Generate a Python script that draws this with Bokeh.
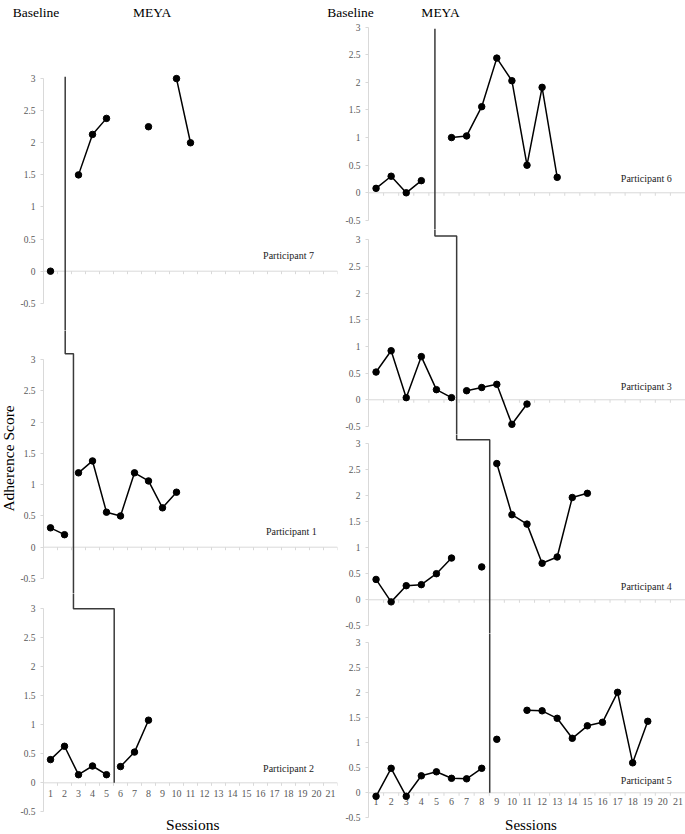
import math
from bokeh.plotting import figure
from bokeh.layouts import row, column
from bokeh.models import Range1d, FixedTicker, Label, NumeralTickFormatter
from bokeh.embed import file_html
from bokeh.resources import INLINE
from bokeh.core.properties import value

nan = float("nan")

# ---------------- data ----------------
sessions = list(range(1, 22))
session_labels = [str(s) for s in sessions]
y_ticks = [-0.5, 0, 0.5, 1, 1.5, 2, 2.5, 3]
phase_labels = ["Baseline", "MEYA"]

p7_base_x = [1]
p7_base_y = [0.0]
p7_meya_x = [3, 4, 5, 6, 7, 8, 9, 10, 11]
p7_meya_y = [1.5, 2.13, 2.38, nan, nan, 2.25, nan, 3.0, 2.0]

p1_base_x = [1, 2]
p1_base_y = [0.31, 0.20]
p1_meya_x = [3, 4, 5, 6, 7, 8, 9, 10]
p1_meya_y = [1.19, 1.38, 0.56, 0.50, 1.19, 1.06, 0.63, 0.88]

p2_base_x = [1, 2, 3, 4, 5]
p2_base_y = [0.40, 0.63, 0.14, 0.29, 0.14]
p2_meya_x = [6, 7, 8]
p2_meya_y = [0.28, 0.53, 1.08]

p6_base_x = [1, 2, 3, 4]
p6_base_y = [0.08, 0.30, 0.0, 0.22]
p6_meya_x = [6, 7, 8, 9, 10, 11, 12, 13]
p6_meya_y = [1.0, 1.03, 1.56, 2.44, 2.03, 0.50, 1.91, 0.28]

p3_base_x = [1, 2, 3, 4, 5, 6]
p3_base_y = [0.52, 0.92, 0.04, 0.81, 0.19, 0.04]
p3_meya_x = [7, 8, 9, 10, 11]
p3_meya_y = [0.17, 0.23, 0.29, -0.46, -0.08]

p4_base_x = [1, 2, 3, 4, 5, 6, 7, 8]
p4_base_y = [0.39, -0.04, 0.27, 0.29, 0.50, 0.80, nan, 0.63]
p4_meya_x = [9, 10, 11, 12, 13, 14, 15]
p4_meya_y = [2.61, 1.63, 1.45, 0.70, 0.82, 1.96, 2.04]

p5_base_x = [1, 2, 3, 4, 5, 6, 7, 8]
p5_base_y = [-0.07, 0.49, -0.07, 0.34, 0.42, 0.29, 0.28, 0.49]
p5_meya_x = [9, 10, 11, 12, 13, 14, 15, 16, 17, 18, 19]
p5_meya_y = [1.07, nan, 1.65, 1.64, 1.49, 1.09, 1.34, 1.41, 2.01, 0.60, 1.43]

# phase-change line positions (session units) and step levels
left_phase_x = [2.05, 2.64, 5.55]
left_phase_level = [3.03, 3.094, 3.0]
right_phase_x = [4.90, 6.34, 8.53]
right_phase_level = [2.97, 3.07, 3.065]

# ---------------- style ----------------
SERIF = "Liberation Serif"
AXIS_GRAY = "#d9d9d9"
LABEL_GRAY = "#595959"
STEP_COLOR = "#3a3a3a"
EXT = 0.2  # let step lines run past the frame edge so panels join seamlessly


def bare_figure(w, h, xr, yr):
    f = figure(width=w, height=h, x_range=Range1d(*xr), y_range=Range1d(*yr),
               x_axis_type=None, y_axis_type=None, output_backend="svg",
               toolbar_location=None, min_border_left=0, min_border_right=0,
               min_border_top=0, min_border_bottom=0)
    f.outline_line_color = None
    f.grid.visible = False
    return f


def make_panel(name, bx, by, mx, my, fw, fh, bl, br, yr, lab_x, step_paths,
               xlabels=False, xlab_off=6):
    p = figure(frame_width=fw, frame_height=fh, x_range=Range1d(0.5, 21.5),
               y_range=Range1d(*yr), x_axis_type=None,
               output_backend="svg", toolbar_location=None,
               min_border_left=bl, min_border_right=br,
               min_border_top=0, min_border_bottom=0)
    p.outline_line_color = None
    p.grid.visible = False

    ax = p.yaxis[0]
    ax.ticker = FixedTicker(ticks=y_ticks)
    ax.bounds = (-0.5, 3)
    ax.formatter = NumeralTickFormatter(format="0.[0]")
    ax.axis_line_color = AXIS_GRAY
    ax.major_tick_line_color = AXIS_GRAY
    ax.minor_tick_line_color = None
    ax.major_tick_out = 3
    ax.major_tick_in = 0
    ax.major_label_standoff = 5
    ax.major_label_text_font = SERIF
    ax.major_label_text_font_size = "9.5px"
    ax.major_label_text_color = LABEL_GRAY

    ppu = fh / (yr[1] - yr[0])
    # x axis line at zero with category ticks
    p.segment(x0=[0.5], y0=[0], x1=[21.5], y1=[0], line_color=AXIS_GRAY, line_width=1)
    tx = [s - 0.5 for s in sessions] + [21.5]
    p.segment(x0=tx, y0=[0] * len(tx), x1=tx, y1=[-3.0 / ppu] * len(tx),
              line_color=AXIS_GRAY, line_width=1)

    if xlabels:
        p.text(x=sessions, y=[0] * len(sessions), text=session_labels,
               text_font=value(SERIF), text_font_size="10px", text_color=LABEL_GRAY,
               text_align="center", text_baseline="top", y_offset=xlab_off)

    # phase change step line
    for xs, ys in step_paths:
        p.line(xs, ys, line_color=STEP_COLOR, line_width=1.5)

    # data
    p.line(bx, by, line_color="black", line_width=1.5)
    p.line(mx, my, line_color="black", line_width=1.5)
    p.scatter(bx, by, size=6.5, color="black")
    p.scatter(mx, my, size=6.5, color="black")

    p.add_layout(Label(x=lab_x, y=0.25, text=name, text_font=SERIF,
                       text_font_size="10px", text_color="#222222",
                       text_align="center", text_baseline="middle"))
    return p


TOP_H = 21
LW, LBL, LBR = 294, 27, 3
RW, RBL, RBR = 317, 28, 0
SIDE_W = 16

# left column
yr7 = (-0.924, 3.889)
yr1 = (-0.741, 3.467)
yr2 = (-0.891, 3.264)
la, lb, lc = left_phase_x
p7 = make_panel("Participant 7", p7_base_x, p7_base_y, p7_meya_x, p7_meya_y,
                LW, 309, LBL, LBR, yr7, 18.0,
                [([la, la], [left_phase_level[0], yr7[0] - EXT])])
p1 = make_panel("Participant 1", p1_base_x, p1_base_y, p1_meya_x, p1_meya_y,
                LW, 263, LBL, LBR, yr1, 18.2,
                [([la, la, lb, lb], [yr1[1] + EXT, left_phase_level[1],
                                     left_phase_level[1], yr1[0] - EXT])])
p2 = make_panel("Participant 2", p2_base_x, p2_base_y, p2_meya_x, p2_meya_y,
                LW, 241, LBL, LBR, yr2, 18.0,
                [([lb, lb, lc, lc], [yr2[1] + EXT, left_phase_level[2],
                                     left_phase_level[2], 0])],
                xlabels=True, xlab_off=7)

# right column
yr6 = (-0.665, 3.103)
yr3 = (-0.651, 3.193)
yr4 = (-0.646, 3.167)
yr5 = (-0.834, 3.186)
ra, rb, rc = right_phase_x
p6 = make_panel("Participant 6", p6_base_x, p6_base_y, p6_meya_x, p6_meya_y,
                RW, 208, RBL, RBR, yr6, 18.9,
                [([ra, ra], [right_phase_level[0], yr6[0] - EXT])])
p3 = make_panel("Participant 3", p3_base_x, p3_base_y, p3_meya_x, p3_meya_y,
                RW, 205, RBL, RBR, yr3, 18.9,
                [([ra, ra, rb, rb], [yr3[1] + EXT, right_phase_level[1],
                                     right_phase_level[1], yr3[0] - EXT])])
p4 = make_panel("Participant 4", p4_base_x, p4_base_y, p4_meya_x, p4_meya_y,
                RW, 199, RBL, RBR, yr4, 18.9,
                [([rb, rb, rc, rc], [yr4[1] + EXT, right_phase_level[2],
                                     right_phase_level[2], yr4[0] - EXT])])
p5 = make_panel("Participant 5", p5_base_x, p5_base_y, p5_meya_x, p5_meya_y,
                RW, 201, RBL, RBR, yr5, 18.9,
                [([rc, rc], [yr5[1] + EXT, 0])],
                xlabels=True, xlab_off=5)

# x-axis titles
p2.add_layout(Label(x=11.16, y=-0.724, text="Sessions", text_font=SERIF,
                    text_font_size="15.5px", text_color="black",
                    text_align="center", text_baseline="middle"))
p5.add_layout(Label(x=11.26, y=-0.64, text="Sessions", text_font=SERIF,
                    text_font_size="15px", text_color="black",
                    text_align="center", text_baseline="middle"))

# top strip with phase labels (pixel coordinates of the strip)
top = bare_figure(685, TOP_H, (0, 685), (TOP_H, 0))
top.text(x=[35.5, 151.7, 350, 440], y=[12, 12, 12, 12],
         text=[phase_labels[0], phase_labels[1], phase_labels[0], phase_labels[1]],
         text_font=value(SERIF), text_font_size="13.5px", text_color="black",
         text_align="center", text_baseline="middle")

# side strip with the y-axis title (uses participant 1's score scale)
side = bare_figure(SIDE_W, 813, (0, SIDE_W), (-4.597, 8.411))
side.text(x=[7.5], y=[1.42], text=["Adherence Score"], angle=math.pi / 2,
          text_font=value(SERIF), text_font_size="15.5px", text_color="black",
          text_align="center", text_baseline="middle")

left_block = row(side, column(p7, p1, p2, spacing=0), spacing=0)
right_block = column(p6, p3, p4, p5, spacing=0)
layout = column(top, row(left_block, right_block, spacing=0), spacing=0)

open("out.html", "w").write(file_html(layout, INLINE))
